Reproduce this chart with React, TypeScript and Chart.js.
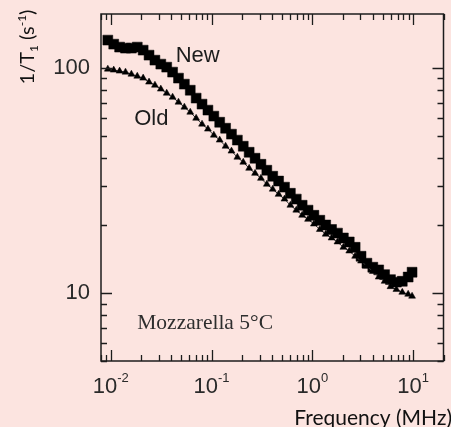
import React, { useEffect, useRef } from 'react';
import { Chart, registerables } from 'chart.js';

Chart.register(...registerables);

// Frequency of each measurement (MHz)
const frequencyMHz = [
  0.00935, 0.0107, 0.01224, 0.014, 0.01602, 0.01832, 0.02096, 0.02397, 0.02742, 0.03137,
  0.03589, 0.04106, 0.04697, 0.05373, 0.06147, 0.07032, 0.08044, 0.09204, 0.1053, 0.1204,
  0.1378, 0.1576, 0.1803, 0.2063, 0.236, 0.27, 0.3089, 0.3534, 0.4043, 0.4624,
  0.5291, 0.6052, 0.6924, 0.792, 0.9061, 1.036, 1.186, 1.356, 1.551, 1.775,
  2.031, 2.323, 2.658, 3.041, 3.478, 3.979, 4.552, 5.209, 5.959, 6.817,
  7.799, 8.92, 9.757,
];

// 1/T1 (s^-1), "New" sample
const newRate = [
  133.2, 127.8, 124.0, 122.7, 122.7, 124.0, 120.2, 114.2, 108.5, 104.2,
  101.0, 96.0, 90.3, 84.9, 79.8, 73.6, 69.2, 65.1, 61.2, 57.5,
  54.1, 50.9, 47.9, 45.0, 42.3, 39.8, 37.4, 35.2, 33.1, 31.5,
  29.6, 27.8, 26.2, 24.6, 23.4, 22.2, 21.1, 20.1, 19.2, 18.5,
  17.6, 16.9, 16.0, 14.6, 13.6, 13.05, 12.7, 12.1, 11.5, 11.2,
  11.3, 11.8, 12.4,
];

// 1/T1 (s^-1), "Old" sample
const oldRate = [
  99.0, 98.0, 97.0, 96.0, 94.0, 92.1, 90.3, 86.7, 84.0, 80.7,
  77.4, 74.3, 70.6, 67.1, 63.7, 59.9, 56.4, 53.6, 50.4, 47.9,
  45.0, 42.8, 40.2, 38.2, 35.9, 34.1, 32.4, 30.5, 29.0, 27.5,
  26.2, 24.6, 23.4, 22.2, 21.3, 20.3, 19.2, 18.3, 17.6, 16.9,
  16.0, 15.4, 14.6, 13.9, 13.2, 12.5, 11.8, 11.3, 10.7, 10.4,
  10.1, 9.9, 9.7,
];

const yLabelValues = [10, 100];
const xLabelExponents = [-2, -1, 0, 1];
const xRange = [0.008, 20];
const yRange = [5, 174];

const BG = '#fce4e0';
const INK = '#1c1c1c';
const SANS = '"Liberation Sans", Arial, sans-serif';

const framePlugin = {
  id: 'frame',
  afterDraw(chart: any) {
    const { ctx, chartArea, scales } = chart;
    const xs = scales.x;
    const ys = scales.y;
    const { left, right, top, bottom } = chartArea;
    ctx.save();
    ctx.strokeStyle = INK;
    ctx.lineWidth = 1.5;
    ctx.strokeRect(left, top, right - left, bottom - top);

    ctx.lineWidth = 1.3;
    ctx.beginPath();
    for (let e = -3; e <= 2; e++) {
      for (let k = 1; k <= 9; k++) {
        const v = k * Math.pow(10, e);
        if (v >= xRange[0] && v <= xRange[1]) {
          const px = Math.round(xs.getPixelForValue(v)) + 0.5;
          const len = k === 1 ? 11 : 6;
          ctx.moveTo(px, bottom);
          ctx.lineTo(px, bottom - len);
          ctx.moveTo(px, top);
          ctx.lineTo(px, top + len);
        }
        if (v >= yRange[0] && v <= yRange[1]) {
          const py = Math.round(ys.getPixelForValue(v)) + 0.5;
          const len = k === 1 ? 11 : 6;
          ctx.moveTo(left, py);
          ctx.lineTo(left + len, py);
          ctx.moveTo(right, py);
          ctx.lineTo(right - len, py);
        }
      }
    }
    ctx.stroke();

    // x tick labels with superscript exponents
    ctx.fillStyle = '#2a2a2a';
    ctx.textBaseline = 'alphabetic';
    xLabelExponents.forEach((ex) => {
      const px = xs.getPixelForValue(Math.pow(10, ex));
      ctx.font = `22px ${SANS}`;
      const baseW = ctx.measureText('10').width;
      const sup = ex < 0 ? '-' + Math.abs(ex) : String(ex);
      ctx.font = `13px ${SANS}`;
      const supW = ctx.measureText(sup).width;
      const start = px - (baseW + supW) / 2;
      ctx.font = `22px ${SANS}`;
      ctx.textAlign = 'left';
      ctx.fillText('10', start, 393);
      ctx.font = `13px ${SANS}`;
      ctx.fillText(sup, start + baseW, 382);
    });

    // annotations positioned in data coordinates
    ctx.fillStyle = INK;
    ctx.font = `22px ${SANS}`;
    ctx.fillText('New', xs.getPixelForValue(0.044), ys.getPixelForValue(107));
    ctx.fillText('Old', xs.getPixelForValue(0.0171), ys.getPixelForValue(55.8));
    ctx.fillStyle = '#2e2e2e';
    ctx.font = `21.5px "Liberation Serif", "Times New Roman", serif`;
    ctx.fillText('Mozzarella 5°C', xs.getPixelForValue(0.0183), ys.getPixelForValue(6.92));

    // x axis title
    ctx.fillStyle = '#111';
    ctx.font = `21px Lato, sans-serif`;
    ctx.textAlign = 'right';
    ctx.fillText('Frequency (MHz)', 452, 425);

    // y axis title, rotated: 1/T1 (s^-1)
    const parts: [string, number, number][] = [
      ['1/T', 20, 0],
      ['1', 12, 4],
      [' (s', 20, 0],
      ['-1', 12, -8],
      [')', 20, 0],
    ];
    let total = 0;
    parts.forEach(([t, s]) => {
      ctx.font = `${s}px Lato, sans-serif`;
      total += ctx.measureText(t).width;
    });
    ctx.translate(34, 47);
    ctx.rotate(-Math.PI / 2);
    ctx.textAlign = 'left';
    let cx = -total / 2;
    parts.forEach(([t, s, dy]) => {
      ctx.font = `${s}px Lato, sans-serif`;
      ctx.fillText(t, cx, dy);
      cx += ctx.measureText(t).width;
    });
    ctx.restore();
  },
};

export default function App() {
  const canvasRef = useRef<HTMLCanvasElement | null>(null);

  useEffect(() => {
    document.body.style.margin = '0';
    const canvas = canvasRef.current;
    if (!canvas) return;
    const toPoints = (ys: number[]) => frequencyMHz.map((f, i) => ({ x: f, y: ys[i] }));
    const chart = new Chart(canvas, {
      type: 'scatter',
      data: {
        datasets: [
          {
            label: 'Old',
            data: toPoints(oldRate),
            showLine: true,
            borderColor: '#333',
            borderWidth: 1,
            backgroundColor: '#000',
            pointStyle: 'triangle',
            pointRadius: 4,
            pointBorderColor: '#000',
            pointBorderWidth: 0.5,
          },
          {
            label: 'New',
            data: toPoints(newRate),
            showLine: false,
            backgroundColor: '#000',
            pointStyle: 'rect',
            pointRadius: 7,
            pointBorderColor: '#000',
            pointBorderWidth: 0.5,
          },
        ],
      },
      options: {
        responsive: false,
        animation: false,
        devicePixelRatio: 1,
        layout: { padding: { left: 0, top: 14, right: 1, bottom: 0 } },
        plugins: { legend: { display: false }, tooltip: { enabled: false } },
        scales: {
          x: {
            type: 'logarithmic',
            min: xRange[0],
            max: xRange[1],
            grid: { display: false },
            border: { display: false },
            ticks: { display: false },
            afterFit: (scale: any) => {
              scale.height = 66;
              scale.paddingLeft = 0;
              scale.paddingRight = 0;
            },
          },
          y: {
            type: 'logarithmic',
            min: yRange[0],
            max: yRange[1],
            grid: { display: false, drawTicks: false },
            border: { display: false },
            ticks: {
              autoSkip: false,
              padding: 11,
              color: '#2a2a2a',
              font: { family: SANS, size: 22 },
              callback: (v: any) => (yLabelValues.includes(Number(v)) ? String(v) : ''),
            },
            afterFit: (scale: any) => {
              scale.width = 101;
              scale.paddingTop = 0;
              scale.paddingBottom = 0;
            },
          },
        },
      },
      plugins: [framePlugin],
    });
    return () => chart.destroy();
  }, []);

  return (
    <div style={{ position: 'fixed', left: 0, top: 0, width: 451, height: 427, background: BG }}>
      <canvas ref={canvasRef} width={451} height={427} style={{ width: 451, height: 427, display: 'block' }} />
    </div>
  );
}
